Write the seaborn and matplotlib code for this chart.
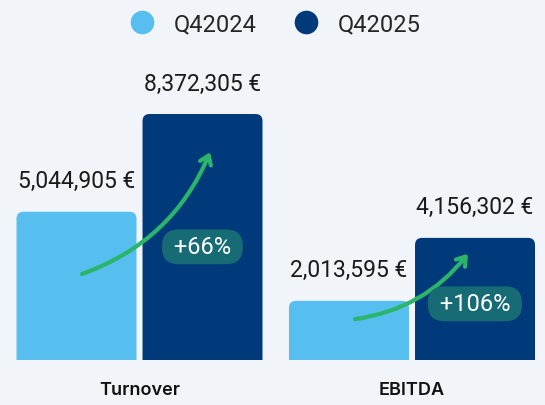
import pandas as pd
import seaborn as sns
import matplotlib.pyplot as plt
from matplotlib.patches import FancyBboxPatch
from matplotlib.lines import Line2D

# Data
metrics = ["Turnover", "EBITDA"]
quarters = ["Q42024", "Q42025"]
values_q4_2024 = [5044905, 2013595]
values_q4_2025 = [8372305, 4156302]

# Colours
BG = "#f1f4f8"
LIGHT = "#56bfef"
DARK = "#003a7a"
PILL = "#176b74"
GREEN = "#2bb56b"

W, H, DPI = 545, 406, 100
BASE_PX = 361          # y pixel of the bar base (from top)
TALLEST_PX = 246       # pixel height of tallest bar
GROUP_PX = 272.5       # pixels between group centres
FIRST_PX = 139.5       # x pixel of first group centre


def build_frame() -> pd.DataFrame:
    rows = []
    for m, a, b in zip(metrics, values_q4_2024, values_q4_2025):
        rows.append({"metric": m, "quarter": quarters[0], "value": a})
        rows.append({"metric": m, "quarter": quarters[1], "value": b})
    return pd.DataFrame(rows)


def round_bars(ax: plt.Axes, radius_px: float = 7) -> None:
    """Replace the square bars by bars with rounded top corners"""
    x_per_px = 1 / GROUP_PX
    y_per_px = ax.get_ylim()[1] / BASE_PX
    rx = radius_px * x_per_px
    ry = radius_px * y_per_px
    for p in list(ax.patches):
        x, w, h = p.get_x(), p.get_width(), p.get_height()
        color = p.get_facecolor()
        p.remove()
        ax.add_patch(FancyBboxPatch(
            (x, -ry * 2), w, h + ry * 2,
            boxstyle=f"round,pad=0,rounding_size={rx}",
            mutation_aspect=ry / rx,
            facecolor=color, edgecolor="none", clip_on=True,
        ))


def main() -> None:
    sns.set_theme(style="white")
    plt.rcParams["font.family"] = ["Roboto", "DejaVu Sans"]

    df = build_frame()
    fig = plt.figure(figsize=(W / DPI, H / DPI), dpi=DPI, facecolor=BG)
    ax = fig.add_axes([0, (H - BASE_PX) / H, 1, BASE_PX / H])
    ax.set_facecolor(BG)

    sns.barplot(
        ax=ax, data=df, x="metric", y="value", hue="quarter",
        hue_order=quarters, palette=[LIGHT, DARK], saturation=1,
        width=0.925, gap=0.048, legend=False, errorbar=None,
    )

    top = max(values_q4_2025) * BASE_PX / TALLEST_PX
    ax.set_ylim(0, top)
    ax.set_xlim(-FIRST_PX / GROUP_PX, (W - FIRST_PX) / GROUP_PX)
    ax.set_axis_off()

    round_bars(ax)

    off = 0.231  # half distance between bar centres in a group
    # value labels above bars
    for i, (a, b) in enumerate(zip(values_q4_2024, values_q4_2025)):
        for dx, v in ((-off, a), (off, b)):
            ax.annotate(f"{v:,} €", (i + dx, v), xytext=(0, 31),
                        textcoords="offset pixels", ha="center", va="center",
                        fontsize=16.5, color="#1a1a1a")

        # category labels
        ax.annotate(metrics[i], (i, 0), xytext=(0, -30),
                    textcoords="offset pixels", ha="center", va="center",
                    fontsize=13, fontweight="semibold", color="#111111",
                    family=["Inter", "DejaVu Sans"])

    # growth arrows (start / end as fraction of bar values)
    arrow_start = [(-0.211, 0.58), (-0.209, 0.69)]
    arrow_end = [(0.259, 0.845), (0.205, 0.87)]
    arrow_rad = [0.22, 0.2]
    for i, (a, b) in enumerate(zip(values_q4_2024, values_q4_2025)):
        sx, sf = arrow_start[i]
        ex, ef = arrow_end[i]
        ax.annotate("", xy=(i + ex, b * ef), xytext=(i + sx, a * sf),
                    arrowprops=dict(
                        arrowstyle="->,head_length=0.5,head_width=0.35",
                        connectionstyle=f"arc3,rad={arrow_rad[i]}",
                        color=GREEN, lw=3, shrinkA=0, shrinkB=0,
                        capstyle="round", joinstyle="round"))

        # growth pill
        pct = round((b / a - 1) * 100)
        ax.text(i + off, b * 0.46, f" +{pct}% ", ha="center", va="center",
                fontsize=17, color="white", zorder=5,
                bbox=dict(boxstyle="round,pad=0.25,rounding_size=0.7",
                          facecolor=PILL, edgecolor="none"))

    # legend
    handles = [Line2D([], [], marker="o", linestyle="none", markersize=17,
                      markerfacecolor=c, markeredgecolor="none")
               for c in (LIGHT, DARK)]
    fig.legend(handles, quarters, loc="upper center", ncol=2, frameon=False,
               bbox_to_anchor=(0.495, 1.02), fontsize=17, handletextpad=0.34,
               columnspacing=1.1)

    fig.savefig("out.png", dpi=DPI, facecolor=BG)
    plt.close(fig)


if __name__ == "__main__":
    main()
